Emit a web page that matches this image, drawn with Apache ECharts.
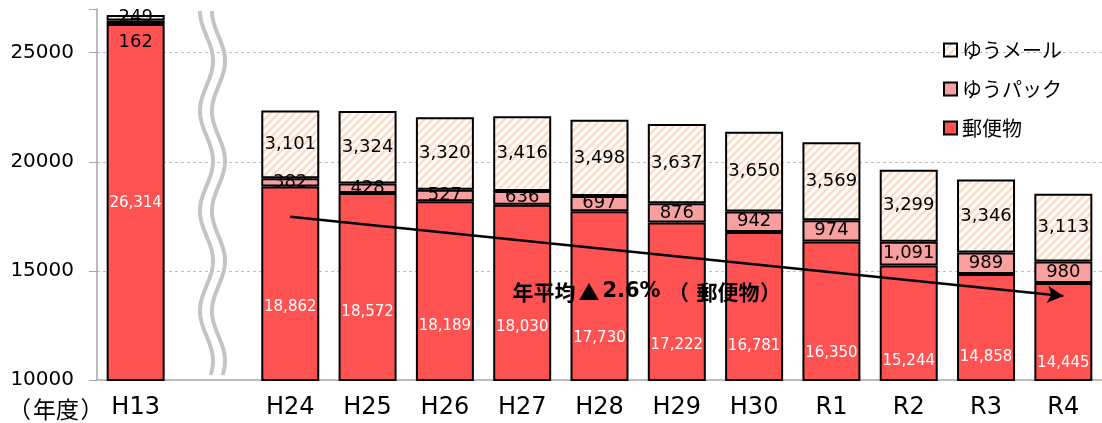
<!DOCTYPE html>
<html>
<head>
<meta charset="utf-8">
<script src="https://cdn.jsdelivr.net/npm/echarts@6/dist/echarts.min.js"></script>
<style>
  html, body { margin: 0; padding: 0; background: #fff; }
  #container { width: 1102px; height: 423px; }
</style>
</head>
<body>
<div id="container"></div>
<script>
// 年度（H13 と H24 の間は省略）
var categories = ['H13', '', 'H24', 'H25', 'H26', 'H27', 'H28', 'H29', 'H30', 'R1', 'R2', 'R3', 'R4'];
var postal = [26314, null, 18862, 18572, 18189, 18030, 17730, 17222, 16781, 16350, 15244, 14858, 14445];
var yuPack = [162, null, 382, 428, 527, 636, 697, 876, 942, 974, 1091, 989, 980];
var yuMail = [249, null, 3101, 3324, 3320, 3416, 3498, 3637, 3650, 3569, 3299, 3346, 3113];
var yTicks = [10000, 15000, 20000, 25000];

// 矢印（年平均の傾き）
var trendFrom = ['H24', 17480];
var trendTo = [11.91, 13850];

// 郵便物の数値ラベルの高さ（元の図で手置きされている）
var postalLabelLift = [170, 0, 66, 61, 47, 46, 35, 28, 27, 20, 12, 16, 10];

var fontNum = "'DejaVu Sans', 'Noto Sans CJK JP', sans-serif";
var fontJp = "'Noto Sans CJK JP', 'DejaVu Sans', sans-serif";

// ゆうメールの斜線パターン
var hatch = document.createElement('canvas');
hatch.width = 8;
hatch.height = 8;
var hc = hatch.getContext('2d');
hc.fillStyle = '#ffffff';
hc.fillRect(0, 0, 8, 8);
hc.strokeStyle = '#fbdcc6';
hc.lineWidth = 2.4;
hc.beginPath();
hc.moveTo(-2, 10); hc.lineTo(10, -2);
hc.moveTo(-6, 6); hc.lineTo(6, -6);
hc.moveTo(2, 14); hc.lineTo(14, 2);
hc.stroke();

function fmt(v) {
  return Number(v).toLocaleString('en-US');
}

// 波線（省略記号）
function wavePoints(x0) {
  var pts = [];
  for (var y = 11; y <= 376; y += 2) {
    pts.push([x0 + 6.5 - 6.5 * Math.cos((y - 11) / 100 * 2 * Math.PI), y]);
  }
  return pts;
}

// 全角かっこが詰まらないように幅を固定した rich テキスト
function jpRich(size, weight, openW, closeW) {
  return {
    t: { fontFamily: fontJp, fontSize: size, fontWeight: weight },
    tri: { fontFamily: fontJp, fontSize: size, fontWeight: weight, width: size + 6, align: 'center' },
    n: { fontFamily: fontNum, fontSize: size, fontWeight: weight },
    po: { fontFamily: fontJp, fontSize: size, fontWeight: weight, width: openW, align: 'right' },
    pc: { fontFamily: fontJp, fontSize: size, fontWeight: weight, width: closeW, align: 'center' }
  };
}

var myChart = echarts.init(document.getElementById('container'));

var postalData = postal.map(function (v, i) {
  return { value: v, label: { distance: postalLabelLift[i] } };
});
var packData = yuPack.map(function (v, i) {
  return i === 0 ? { value: v, label: { offset: [0, 20] } } : v;
});

var options = {
  animation: false,
  textStyle: { fontFamily: fontNum },
  grid: { left: 97, top: 9, width: 1010, bottom: 43 },
  legend: {
    data: ['ゆうメール', 'ゆうパック', '郵便物'],
    orient: 'vertical',
    left: 938,
    top: 35,
    itemWidth: 13,
    itemHeight: 13,
    itemGap: 19,
    icon: 'rect',
    textStyle: { fontFamily: fontJp, fontSize: 20, color: '#000' }
  },
  xAxis: {
    type: 'category',
    data: categories,
    axisLine: { lineStyle: { color: '#a6a6a6', width: 1.5 } },
    axisTick: { length: 8, lineStyle: { color: '#a6a6a6' } },
    axisLabel: { fontSize: 24, color: '#000', margin: 16 }
  },
  yAxis: {
    type: 'value',
    min: 10000,
    max: 27000,
    interval: 5000,
    axisLine: { show: true, lineStyle: { color: '#a6a6a6', width: 1.5 } },
    axisTick: { show: true, length: 8, lineStyle: { color: '#a6a6a6' } },
    axisLabel: {
      fontSize: 20,
      color: '#000',
      margin: 23,
      formatter: function (v) { return yTicks.indexOf(v) >= 0 ? String(v) : ''; }
    },
    splitLine: {
      showMinLine: false,
      showMaxLine: false,
      lineStyle: { color: '#bdbdbd', type: [3, 3] }
    }
  },
  graphic: [
    {
      type: 'polyline',
      shape: { points: wavePoints(200) },
      style: { fill: null, stroke: '#c4c4c4', lineWidth: 4 },
      z: 10
    },
    {
      type: 'polyline',
      shape: { points: wavePoints(212) },
      style: { fill: null, stroke: '#c4c4c4', lineWidth: 4 },
      z: 10
    },
    {
      type: 'text',
      x: 6,
      y: 409,
      style: {
        text: '{po|（}{t|年度}{pc|）}',
        rich: jpRich(23, 'normal', 27, 26),
        fill: '#000',
        verticalAlign: 'middle'
      }
    },
    {
      type: 'text',
      x: 647,
      y: 292,
      style: {
        text: '{t|年平均}{tri|▲}{n|2.6%}{po|（}{t|郵便物}{pc|）}',
        rich: jpRich(21, 'bold', 36, 22),
        fill: '#000',
        align: 'center',
        verticalAlign: 'middle'
      },
      z: 20
    }
  ],
  series: [
    {
      name: '郵便物',
      type: 'bar',
      stack: 'total',
      barWidth: 58,
      data: postalData,
      itemStyle: { color: '#ff5353', borderColor: '#000', borderWidth: 2 },
      label: {
        show: true,
        position: 'insideBottom',
        color: '#fff',
        fontSize: 15,
        formatter: function (p) { return fmt(p.value); }
      },
      markLine: {
        silent: true,
        symbol: ['none', 'arrow'],
        symbolSize: [13, 16],
        label: { show: false },
        lineStyle: { color: '#000', width: 2.5, type: 'solid' },
        data: [[{ coord: trendFrom }, { coord: trendTo }]],
        z: 15
      }
    },
    {
      name: 'ゆうパック',
      type: 'bar',
      stack: 'total',
      barWidth: 58,
      data: packData,
      itemStyle: { color: '#f8a0a0', borderColor: '#000', borderWidth: 2 },
      label: {
        show: true,
        position: 'inside',
        color: '#000',
        fontSize: 18,
        formatter: function (p) { return fmt(p.value); }
      }
    },
    {
      name: 'ゆうメール',
      type: 'bar',
      stack: 'total',
      barWidth: 58,
      data: yuMail,
      itemStyle: {
        color: { image: hatch, repeat: 'repeat' },
        borderColor: '#000',
        borderWidth: 2
      },
      label: {
        show: true,
        position: 'inside',
        color: '#000',
        fontSize: 18,
        formatter: function (p) { return fmt(p.value); }
      }
    }
  ]
};

myChart.setOption(options);
</script>
</body>
</html>
